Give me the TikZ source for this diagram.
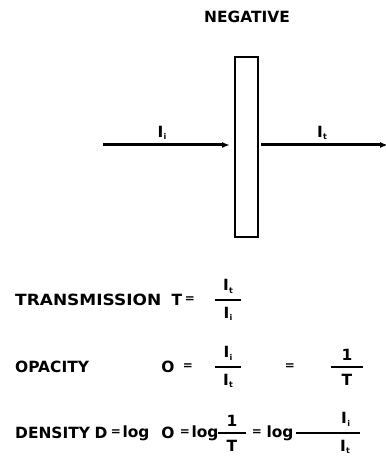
\documentclass[tikz,border=0pt]{standalone}
\usepackage{amsmath}
\usepackage{fontspec}
\usepackage{tikz}
\usetikzlibrary{arrows.meta}
\newfontfamily\heavy{DejaVu Sans}
\newcommand\Is[1]{I\kern0.4bp\raisebox{-2.5bp}{\fontsize{8}{8}\selectfont #1}}
\newcommand\frc[3][26bp]{$\genfrac{}{}{2bp}{0}{\makebox[#1]{#2}}{\makebox[#1]{#3}}$}

\begin{document}
\begin{tikzpicture}[x=1bp,y=-1bp,
  lbl/.style={font=\heavy\bfseries\fontsize{15.5}{18}\selectfont, inner sep=0},
  eqs/.style={font=\heavy\bfseries\fontsize{12}{13}\selectfont, inner sep=0},
  ray/.style={line width=3bp, -{Latex[length=8bp,width=6bp]}},
  film/.style={draw, line width=2bp, minimum width=23bp, minimum height=180bp, inner sep=0}]
\useasboundingbox (0,0) rectangle (385,459);

% ===== Negative =====

\node[film] (neg) at (246.5,147) {};
\node[lbl] (title) at (247,17) {NEGATIVE};

% ===== Beams =====

\coordinate (src) at (103,145);
\coordinate (out) at (388,145);
\draw[ray] (src) -- ([xshift=-4bp]neg.west |- src);
\draw[ray] ([xshift=2bp]neg.east |- out) -- (out);
\node[lbl] (ii) at (162,133) {\Is{i}};
\node[lbl] (it) at (322,133) {\Is{t}};

% ===== Transmission =====

\node[lbl, anchor=west] (trans) at (15,300) {\scalebox{1.1}[1]{TRANSMISSION}};
\node[lbl] (tT) at (177,300) {T};
\node[eqs] (tEq) at (190,300) {=};
\node[lbl] (tFrac) at (228,300) {\frc{\Is{t}}{\Is{i}}};

% ===== Opacity =====

\node[lbl, anchor=west] (opac) at (15,367) {OPACITY};
\node[lbl] (oO) at (168,367) {O};
\node[eqs] (oEq) at (188,367) {=};
\node[lbl] (oFrac) at (228,367) {\frc{\Is{i}}{\Is{t}}};
\node[eqs] (oEqb) at (290,367) {=};
\node[lbl] (oInv) at (347,367) {\frc[32bp]{1}{T}};

% ===== Density =====

\node[lbl, anchor=west] (dens) at (15,433) {DENSITY};
\node[lbl] (dD) at (101,433) {D};
\node[eqs] (dEq) at (116,433) {=};
\node[lbl] (dLog) at (136,433) {log};
\node[lbl] (dO) at (168,433) {O};
\node[eqs] (dEqb) at (185,433) {=};
\node[lbl] (dLogb) at (205,433) {log};
\node[lbl] (dInv) at (232,433) {\frc[28bp]{1}{T}};
\node[eqs] (dEqc) at (257,433) {=};
\node[lbl] (dLogc) at (280,433) {log};
\node[lbl] (dFrac) at (328,433) {\frc[64bp]{\hfill\Is{i}\hspace{10bp}}{\hfill\Is{t}\hspace{10bp}}};

\end{tikzpicture}
\end{document}
